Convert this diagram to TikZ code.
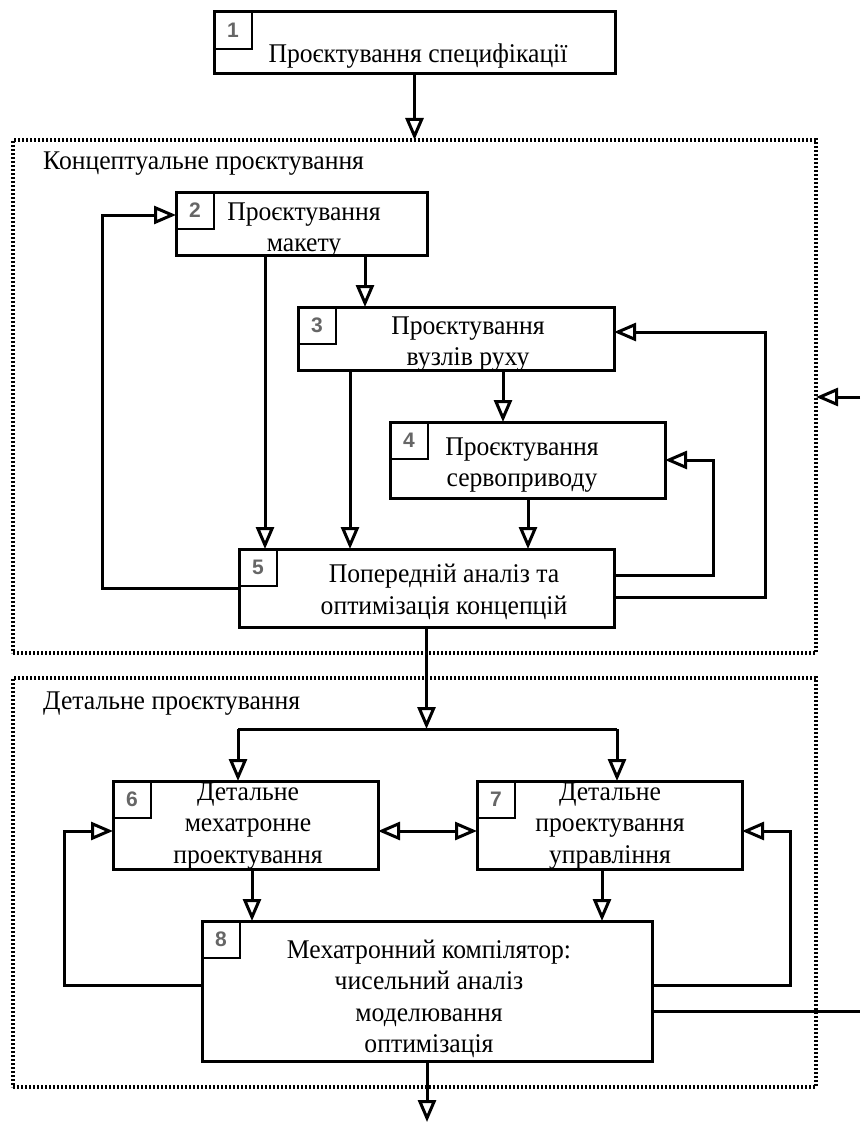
\documentclass[tikz,border=0pt]{standalone}
\usepackage{fontspec}
\setmainfont{Liberation Serif}[FakeStretch=0.95]
\newfontfamily\numfont{Liberation Sans}
\usetikzlibrary{arrows.meta,calc}
\tikzset{
  box/.style={draw, fill=white, line width=3pt, inner sep=0pt, outer sep=0pt, anchor=north west},
  numbox/.style={draw, line width=2.2pt, inner sep=0pt, outer sep=0pt, anchor=north west,
    minimum width=38pt, minimum height=37pt, font=\numfont\bfseries\fontsize{21}{21}\selectfont, text=black!60},
  txt/.style={align=center, font=\fontsize{27}{31.5}\selectfont, inner sep=0pt},
  sectlabel/.style={anchor=west, font=\fontsize{27}{31.5}\selectfont, inner sep=0pt},
  sect/.style={draw, line width=3.6pt, dash pattern=on 2.4pt off 1.6pt, inner sep=0pt, outer sep=0pt, anchor=north west},
  ln/.style={line width=3pt, line join=miter},
  arr/.style={ln, -{Triangle[open, length=22pt, width=18pt]}},
  darr/.style={ln, {Triangle[open, length=22pt, width=18pt]}-{Triangle[open, length=22pt, width=18pt]}},
}
\begin{document}
\begin{tikzpicture}[x=1pt,y=-1pt]
\useasboundingbox (0,0) rectangle (860,1126);
\fill[white] (0,0) rectangle (860,1126);

% sections
\node[sect, minimum width=803pt, minimum height=513pt] (sec1) at (13,140) {};
\node[sect, minimum width=803pt, minimum height=409pt] (sec2) at (13,678) {};
\node[sectlabel] (lab1) at (43,164) {Концептуальне проєктування};
\node[sectlabel] (lab2) at (43,704) {Детальне проєктування};

% boxes
\node[box, minimum width=401pt, minimum height=62pt] (b1) at (214,12) {};
\node[box, minimum width=251pt, minimum height=63pt] (b2) at (176,192) {};
\node[box, minimum width=316pt, minimum height=63pt] (b3) at (298,307) {};
\node[box, minimum width=275pt, minimum height=76pt] (b4) at (390,422) {};
\node[box, minimum width=375pt, minimum height=78pt] (b5) at (239,549) {};
\node[box, minimum width=265pt, minimum height=88pt] (b6) at (113,781) {};
\node[box, minimum width=265pt, minimum height=88pt] (b7) at (477,781) {};
\node[box, minimum width=450pt, minimum height=140pt] (b8) at (202,921) {};

% number boxes
\node[numbox] (n1) at (b1.north west) {1};
\node[numbox] (n2) at (b2.north west) {2};
\node[numbox] (n3) at (b3.north west) {3};
\node[numbox] (n4) at (b4.north west) {4};
\node[numbox] (n5) at (b5.north west) {5};
\node[numbox] (n6) at (b6.north west) {6};
\node[numbox] (n7) at (b7.north west) {7};
\node[numbox] (n8) at (b8.north west) {8};

% texts
\node[txt] (t1) at (418,56) {Проєктування специфікації};
\node[txt] (t2) at (304,230) {Проєктування\\макету};
\node[txt] (t3) at (468,344) {Проєктування\\вузлів руху};
\node[txt] (t4) at (522,465) {Проєктування\\сервоприводу};
\node[txt] (t5) at (444,592) {Попередній аналіз та\\оптимізація концепцій};
\node[txt] (t6) at (248,826) {Детальне\\мехатронне\\проектування};
\node[txt] (t7) at (610,826) {Детальне\\проектування\\управління};
\node[txt] (t8) at (429,999) {Мехатронний компілятор:\\чисельний аналіз\\моделювання\\оптимізація};

% connectors: top
\draw[arr] (b1.south) -- (b1.south |- sec1.north);

% conceptual section
\coordinate (p25) at ([xshift=89pt]b2.south west);
\coordinate (p23) at ([xshift=189pt]b2.south west);
\coordinate (p35) at ([xshift=52pt]b3.south west);
\coordinate (p34) at ([xshift=205pt]b3.south west);
\coordinate (p45) at ([xshift=138pt]b4.south west);
\draw[arr] (p25) -- (p25 |- b5.north);
\draw[arr] (p23) -- (p23 |- b3.north);
\draw[arr] (p35) -- (p35 |- b5.north);
\draw[arr] (p34) -- (p34 |- b4.north);
\draw[arr] (p45) -- (p45 |- b5.north);

\coordinate (s52) at ([yshift=-39pt]b5.north west);
\coordinate (e52) at ([yshift=-23pt]b2.north west);
\coordinate (L1) at (102,0);
\draw[arr] (s52) -- (s52 -| L1) -- (L1 |- e52) -- (e52);

\coordinate (s54) at ([yshift=-26pt]b5.north east);
\coordinate (R4) at (713,0);
\draw[arr] (s54) -- (s54 -| R4) -- (R4 |- b4.east) -- (b4.east);

\coordinate (s53) at ([yshift=-48pt]b5.north east);
\coordinate (e53) at ([yshift=-25pt]b3.north east);
\coordinate (R3) at (765,0);
\draw[arr] (s53) -- (s53 -| R3) -- (R3 |- e53) -- (e53);

\coordinate (inR) at (860,397);
\draw[arr] (inR) -- (inR -| sec1.east);

% to detailed section
\coordinate (spl) at (427,729);
\coordinate (sL) at (238,729);
\coordinate (sR) at (617,729);
\draw[arr] (b5.south) -- (b5.south |- spl);
\draw[ln] (sL) -- (sR);
\draw[arr] (sL) -- (sL |- b6.north);
\draw[arr] (sR) -- (sR |- b7.north);

\coordinate (m6) at ([yshift=-50pt]b6.north east);
\draw[darr] (m6) -- (m6 -| b7.west);

\coordinate (p68) at ([xshift=139pt]b6.south west);
\coordinate (p78) at ([xshift=125pt]b7.south west);
\draw[arr] (p68) -- (p68 |- b8.north);
\draw[arr] (p78) -- (p78 |- b8.north);

\coordinate (s86) at ([yshift=-64pt]b8.north west);
\coordinate (e86) at ([yshift=-50pt]b6.north west);
\coordinate (L2) at (64,0);
\draw[arr] (s86) -- (s86 -| L2) -- (L2 |- e86) -- (e86);

\coordinate (s87) at ([yshift=-64pt]b8.north east);
\coordinate (e87) at ([yshift=-50pt]b7.north east);
\coordinate (R7) at (790,0);
\draw[arr] (s87) -- (s87 -| R7) -- (R7 |- e87) -- (e87);

\coordinate (s8o) at ([yshift=-90pt]b8.north east);
\coordinate (outR) at (860,1011);
\draw[ln] (s8o) -- (outR);

\coordinate (outB) at (427,1122);
\draw[arr] (b8.south) -- (b8.south |- outB);
\end{tikzpicture}
\end{document}
